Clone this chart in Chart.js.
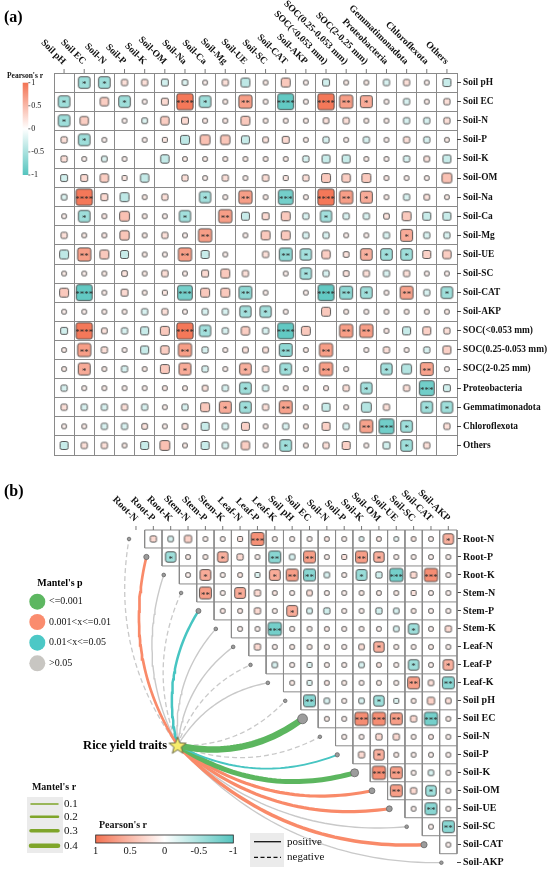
<!DOCTYPE html>
<html><head><meta charset="utf-8">
<script src="https://cdn.jsdelivr.net/npm/chart.js@4.4.1/dist/chart.umd.min.js"></script>
<style>
html,body{margin:0;padding:0;background:#fff;}
body{width:550px;height:875px;overflow:hidden;position:relative;}
canvas{position:absolute;left:0;}
#ca{top:0;width:550px;height:470px;}
#cb{top:470px;width:550px;height:420px;}
</style></head><body>
<canvas id="ca" width="550" height="470"></canvas>
<canvas id="cb" width="550" height="420"></canvas>
<script>
// ---------------- DATA ----------------
const varsA = ['Soil pH','Soil EC','Soil-N','Soil-P','Soil-K','Soil-OM','Soil-Na','Soil-Ca','Soil-Mg','Soil-UE','Soil-SC','Soil-CAT','Soil-AKP','SOC(<0.053 mm)','SOC(0.25-0.053 mm)','SOC(2-0.25 mm)','Proteobacteria','Gemmatimonadota','Chloroflexota','Others'];
// lower triangle of Pearson's r (row i, columns 0..i-1)
const corrA = [
 [],
 [-0.42],
 [-0.42, 0.22],
 [0.12, -0.42, 0.04],
 [0.12, 0.04, -0.10, 0.04],
 [-0.15, 0.15, 0.22, 0.08, -0.22],
 [-0.10, 0.85, 0.15, -0.25, 0.06, 0.12],
 [0.04, -0.42, 0.07, 0.30, 0.06, 0.04, -0.40],
 [0.12, 0.06, 0.07, 0.27, 0.06, 0.12, 0.04, 0.55],
 [-0.25, 0.55, 0.25, -0.20, 0.06, 0.04, 0.55, -0.20, 0.04],
 [0.06, 0.04, 0.06, 0.10, 0.06, 0.13, 0.05, 0.15, 0.25, 0.12],
 [0.25, -0.80, 0.05, 0.15, 0.06, 0.08, -0.68, 0.25, 0.25, -0.52, 0.04],
 [0.04, 0.04, 0.05, 0.05, -0.12, 0.12, 0.04, -0.12, -0.12, -0.40, -0.40, 0.04],
 [-0.15, 0.85, 0.10, -0.12, -0.20, 0.25, 0.85, -0.40, -0.12, 0.22, -0.12, -0.80, 0.25],
 [0.06, 0.55, 0.12, 0.04, -0.20, 0.22, 0.55, -0.12, 0.04, 0.10, 0.10, -0.52, 0.06, 0.55],
 [0.06, 0.45, 0.06, -0.12, 0.06, 0.25, 0.45, -0.12, 0.04, 0.42, 0.12, -0.42, 0.04, 0.55, 0.04],
 [-0.12, 0.04, 0.05, 0.04, 0.04, 0.07, 0.05, 0.10, -0.12, -0.42, -0.12, 0.04, 0.06, 0.07, 0.12, -0.40],
 [0.12, -0.12, -0.12, 0.12, -0.12, 0.04, -0.12, 0.25, 0.45, -0.42, 0.12, 0.52, 0.06, -0.20, 0.04, -0.30, 0.12],
 [0.04, 0.05, -0.12, -0.12, 0.10, 0.04, 0.10, -0.20, -0.12, 0.20, 0.04, -0.12, 0.06, 0.20, -0.12, 0.52, -0.70, -0.42],
 [-0.20, 0.12, 0.12, 0.06, -0.20, 0.30, 0.06, -0.20, -0.12, 0.22, 0.04, -0.42, 0.06, 0.12, 0.20, 0.04, -0.15, -0.42, 0.12]
];
// significance marks [row, col, number of asterisks] (lower triangle)
const starsA = [[1,0,1],[2,0,1],[3,1,1],[6,1,4],[7,1,1],[7,6,1],[8,7,2],[9,1,2],[9,6,2],
 [11,1,4],[11,6,3],[11,9,2],[12,9,1],[12,10,1],[13,1,4],[13,6,4],[13,7,1],[13,11,4],
 [14,1,2],[14,6,2],[14,11,2],[14,13,2],[15,1,1],[15,6,1],[15,9,1],[15,11,1],[15,13,2],
 [16,9,1],[16,15,1],[17,8,1],[17,9,1],[17,11,2],[18,15,2],[18,16,3],[18,17,1],[19,11,1],[19,17,1]];

const varsB = ['Root-N','Root-P','Root-K','Stem-N','Stem-P','Stem-K','Leaf-N','Leaf-P','Leaf-K','Soil pH','Soil EC','Soil-N','Soil-P','Soil-K','Soil-OM','Soil-UE','Soil-SC','Soil-CAT','Soil-AKP'];
// upper triangle of Pearson's r (row i, columns i+1..18)
const corrB = [
 [0.15, -0.12, 0.20, 0.04, 0.04, 0.10, 0.65, 0.04, 0.04, 0.04, 0.08, 0.04, -0.08, 0.08, -0.06, 0.08, 0.04, 0.42],
 [-0.42, 0.06, 0.06, 0.42, 0.15, 0.04, -0.55, -0.12, 0.55, 0.04, 0.10, 0.55, 0.42, 0.04, 0.04, 0.04, 0.04],
 [0.04, 0.45, 0.04, 0.08, -0.10, 0.45, 0.55, -0.55, -0.12, 0.04, -0.45, -0.15, -0.68, 0.15, 0.68, 0.04],
 [0.55, 0.04, 0.45, 0.15, 0.08, 0.04, 0.12, 0.04, 0.04, 0.06, 0.06, 0.06, 0.10, 0.04, 0.04],
 [0.07, 0.07, 0.15, 0.04, 0.45, -0.12, -0.15, 0.04, 0.04, -0.15, -0.12, 0.06, 0.04, 0.04],
 [0.04, 0.04, -0.68, 0.04, 0.04, 0.07, 0.04, 0.04, 0.04, -0.12, -0.42, 0.04, 0.15],
 [0.15, 0.04, 0.06, 0.06, 0.04, 0.04, 0.12, 0.42, 0.04, 0.04, 0.06, 0.04],
 [-0.12, 0.04, -0.10, 0.04, 0.04, -0.12, 0.08, 0.04, -0.42, 0.04, 0.42],
 [0.06, -0.10, 0.07, 0.06, 0.04, 0.06, 0.04, 0.55, 0.12, -0.55],
 [-0.55, -0.12, 0.04, -0.12, -0.42, -0.10, 0.06, 0.20, 0.12],
 [0.06, 0.04, 0.68, 0.68, 0.55, 0.15, -0.68, 0.06],
 [0.04, 0.04, 0.15, 0.15, 0.04, 0.07, 0.04],
 [0.15, 0.42, 0.06, 0.04, 0.04, 0.04],
 [0.68, 0.55, 0.04, -0.12, 0.04],
 [0.55, 0.15, -0.42, 0.04],
 [0.04, -0.55, 0.04],
 [0.04, -0.55],
 [0.04],
 []
];
const starsB = [[0,7,3],[0,18,1],[1,2,1],[1,5,1],[1,8,2],[1,10,2],[1,13,2],[1,14,1],[2,4,1],[2,8,1],
 [2,9,2],[2,10,2],[2,13,1],[2,15,3],[2,17,3],[3,4,2],[3,6,1],[4,9,1],[5,8,3],[5,16,1],[6,14,1],
 [7,16,1],[7,18,1],[8,16,2],[8,18,2],[9,10,2],[9,14,1],[10,13,3],[10,14,3],[10,15,2],[10,17,3],
 [12,14,1],[13,14,3],[13,15,2],[14,15,2],[14,17,1],[15,17,2],[16,18,2]];

// Mantel test: Rice yield traits vs each variable
const mantelR = [0.08, 0.22, 0.09, 0.08, 0.20, 0.09, 0.09, 0.08, 0.09, 0.08, 0.60, 0.08, 0.14, 0.45, 0.27, 0.27, 0.09, 0.30, 0.08];
const mantelP = [0.30, 0.005, 0.20, 0.40, 0.02, 0.15, 0.10, 0.50, 0.20, 0.30, 0.0005, 0.40, 0.03, 0.0008, 0.004, 0.006, 0.20, 0.003, 0.30];
const mantelSign = ['negative','positive','positive','negative','positive','positive','positive','negative','positive','negative','positive','negative','positive','positive','positive','positive','positive','positive','positive'];

const pLegend = ['<=0.001','0.001<x<=0.01','0.01<x<=0.05','>0.05'];
const rLegend = [0.1, 0.2, 0.3, 0.4];
const pearsonTicks = [1, 0.5, 0, -0.5, -1];

// ---------------- STYLE ----------------
const FONT = '"Liberation Serif", "Times New Roman", serif';
const WHITE=[255,255,255], RED=[243,114,82], TEAL=[84,196,190];
const C_GREEN='#5cb65f', C_ORANGE='#f98a69', C_TEAL='#47c5c2', C_GRAY='#c9c9c9';
function mixColor(a,b,t){return 'rgb('+a.map((v,i)=>Math.round(v+(b[i]-v)*t)).join(',')+')';}
function fillFor(r){const t=Math.pow(Math.min(1,Math.abs(r)/0.9),0.75);return mixColor(WHITE, r>=0?RED:TEAL, t);}
const imgCache={};
function cellImg(r, cell){
  const side=Math.max(5.5, 0.97*cell*Math.pow(Math.abs(r),0.45));
  const key=side.toFixed(2)+'|'+r;
  if(imgCache[key]) return imgCache[key];
  const W=Math.ceil(side)+2;
  const c=document.createElement('canvas'); c.width=W; c.height=W;
  const g=c.getContext('2d'); const o=(W-side)/2;
  g.beginPath(); g.roundRect(o+0.5,o+0.5,side-1,side-1,Math.min(2.2,side*0.2));
  g.fillStyle=fillFor(r); g.fill();
  g.lineWidth=1; g.strokeStyle='rgba(70,70,70,0.9)'; g.stroke();
  imgCache[key]=c; return c;
}
function starImg(){
  const c=document.createElement('canvas'); c.width=22; c.height=22;
  const g=c.getContext('2d'); g.beginPath();
  for(let k=0;k<10;k++){const a=-Math.PI/2+k*Math.PI/5; const rr=k%2?3.8:9; g.lineTo(11+rr*Math.cos(a),11.5+rr*Math.sin(a));}
  g.closePath(); g.fillStyle='#f6ec6c'; g.fill(); g.lineWidth=1; g.strokeStyle='#6b6a45'; g.stroke();
  return c;
}
function pColor(p){return p<=0.001?C_GREEN:p<=0.01?C_ORANGE:p<=0.05?C_TEAL:C_GRAY;}
function rWidth(r){return 0.5+10*r;}

function starLookup(list){const m={};list.forEach(([i,j,n])=>{m[i+','+j]=n;m[j+','+i]=n;});return m;}

// ---------------- PLUGINS ----------------
function starsTextPlugin(dsIndex){return {id:'starsText'+dsIndex, afterDatasetsDraw(chart){
  const meta=chart.getDatasetMeta(dsIndex), ds=chart.data.datasets[dsIndex], ctx=chart.ctx;
  ctx.save(); ctx.font='9px '+FONT; ctx.fillStyle='#2a2a2a'; ctx.textAlign='center'; ctx.textBaseline='alphabetic';
  meta.data.forEach((el,k)=>{const n=ds.data[k].s; if(n) ctx.fillText('*'.repeat(n), el.x, el.y+4.6);});
  ctx.restore();}};}
function topLabelsPlugin(labels, valueOf, size){return {id:'topLabels', afterDraw(chart){
  const ctx=chart.ctx, xs=chart.scales.x, top=chart.chartArea.top;
  ctx.save(); ctx.font='bold '+size+'px '+FONT; ctx.fillStyle='#111'; ctx.strokeStyle='#555'; ctx.lineWidth=0.8;
  labels.forEach((lab,j)=>{const px=xs.getPixelForValue(valueOf(j));
    ctx.beginPath(); ctx.moveTo(px,top-4); ctx.lineTo(px,top); ctx.stroke();
    ctx.save(); ctx.translate(px, top-10); ctx.rotate(Math.PI/4); ctx.textAlign='right'; ctx.textBaseline='middle';
    ctx.fillText(lab,0,0); ctx.restore();});
  ctx.restore();}};}

// ---------------- CHART A ----------------
const starMapA=starLookup(starsA);
const cellsA=[];
for(let i=0;i<varsA.length;i++) for(let j=0;j<varsA.length;j++){
  if(i===j) continue;
  const r=i>j?corrA[i][j]:corrA[j][i];
  cellsA.push({x:j+0.5,y:i+0.5,r:r,s:starMapA[i+','+j]||0});
}
const legendAPlugin={id:'legendA', afterDraw(chart){
  const ctx=chart.ctx; ctx.save();
  ctx.font='bold 16px '+FONT; ctx.fillStyle='#000'; ctx.textBaseline='middle'; ctx.textAlign='left';
  ctx.fillText('(a)',4,18);
  const x0=22.7,w=5.6,y0=82.7,y1=175;
  const gr=ctx.createLinearGradient(0,y0,0,y1);
  gr.addColorStop(0,mixColor(WHITE,RED,1)); gr.addColorStop(0.5,'#ffffff'); gr.addColorStop(1,mixColor(WHITE,TEAL,1));
  ctx.fillStyle=gr; ctx.fillRect(x0,y0,w,y1-y0);
  ctx.font='bold 7.5px '+FONT; ctx.fillStyle='#111'; ctx.textAlign='center'; ctx.fillText("Pearson's r",25,76);
  ctx.font='8px '+FONT; ctx.textAlign='left'; ctx.strokeStyle='#333'; ctx.lineWidth=0.7;
  pearsonTicks.forEach(v=>{const y=y0+(1-v)/2*(y1-y0);
    ctx.beginPath(); ctx.moveTo(x0+w,y); ctx.lineTo(x0+w+2,y); ctx.stroke();
    ctx.fillText(String(v),x0+w+3,y);});
  ctx.restore();}};
new Chart(document.getElementById('ca'),{
  type:'scatter',
  data:{datasets:[{data:cellsA,
    pointStyle:(c)=>{const ys=c.chart.scales.y;const cell=Math.abs(ys.getPixelForValue(1)-ys.getPixelForValue(0));return cellImg(c.raw.r,cell);},
    pointRadius:3, pointHoverRadius:3}]},
  options:{responsive:false, animation:false, devicePixelRatio:1, events:[],
    layout:{padding:{left:54,top:73,right:0,bottom:15}},
    plugins:{legend:{display:false},tooltip:{enabled:false}},
    scales:{
      x:{type:'linear',position:'top',min:0,max:20,ticks:{display:false,stepSize:1,maxTicksLimit:100},grid:{drawTicks:false,color:'#8a8a8a',lineWidth:1},border:{color:'#8a8a8a'}},
      y:{type:'linear',position:'left',reverse:true,min:0,max:20,ticks:{display:false,stepSize:1,maxTicksLimit:100},grid:{drawTicks:false,color:'#8a8a8a',lineWidth:1},border:{color:'#8a8a8a'}},
      yl:{type:'category',position:'right',labels:varsA,offset:true,
        grid:{drawOnChartArea:false,drawTicks:true,tickLength:4,color:'#444'},border:{display:false},
        ticks:{autoSkip:false,padding:2,color:'#111',font:{family:FONT,weight:'bold',size:9.4}},
        afterFit(s){s.width=93;}}
    }},
  plugins:[starsTextPlugin(0), topLabelsPlugin(varsA,j=>j+0.5,9.6), legendAPlugin]
});

// ---------------- CHART B ----------------
const N=varsB.length;
const starMapB=starLookup(starsB);
const cellsB=[];
for(let i=0;i<N;i++) corrB[i].forEach((r,k)=>{const j=i+1+k; cellsB.push({x:j,y:i,r:r,s:starMapB[i+','+j]||0});});
// staircase grid outline
const gridB=[];
for(let k=0;k<N;k++){gridB.push({x:Math.max(k-0.5,0.5),y:k-0.5},{x:N-0.5,y:k-0.5},{x:null,y:null});}
for(let m=1;m<=N;m++){gridB.push({x:m-0.5,y:-0.5},{x:m-0.5,y:Math.min(m,N-1)-0.5},{x:null,y:null});}
const STAR={x:2.4,y:11.48};
function curve(i){
  const x0=STAR.x,y0=STAR.y,x2=i-0.4,y2=i,dx=x2-x0,dy=y2-y0,side=i<=8?1:-1,k=0.22;
  const cx=(x0+x2)/2+side*k*dy, cy=(y0+y2)/2-side*k*dx, pts=[];
  for(let s=0;s<=40;s++){const t=s/40;pts.push({x:(1-t)*(1-t)*x0+2*t*(1-t)*cx+t*t*x2,y:(1-t)*(1-t)*y0+2*t*(1-t)*cy+t*t*y2});}
  return pts;
}
const datasetsB=[
  {data:cellsB, order:1, clip:false,
   pointStyle:(c)=>{const xs=c.chart.scales.x;const cell=Math.abs(xs.getPixelForValue(1)-xs.getPixelForValue(0));return cellImg(c.raw.r,cell);},
   pointRadius:3, pointHoverRadius:3},
  {data:[STAR], order:0, clip:false, pointStyle:starImg(), pointRadius:5},
  {data:varsB.map((v,i)=>({x:i-0.4,y:i})), order:1, clip:false,
   pointRadius:mantelR.map(r=>1+0.6*rWidth(r)), backgroundColor:'#9c9c9c', borderColor:'#666', borderWidth:0.8, pointStyle:'circle'},
  {data:gridB, order:6, clip:false, showLine:true, borderColor:'#8a8a8a', borderWidth:1, pointRadius:0, spanGaps:false}
];
varsB.forEach((v,i)=>{
  const col=pColor(mantelP[i]);
  datasetsB.push({data:curve(i), order:col===C_GRAY?4:3, clip:false, showLine:true, borderColor:col,
    borderWidth:rWidth(mantelR[i]), borderDash:mantelSign[i]==='negative'?[5,3]:[], pointRadius:0, borderCapStyle:'butt'});
});
const legendBPlugin={id:'legendB', afterDraw(chart){
  const ctx=chart.ctx; ctx.save();
  ctx.fillStyle='#000'; ctx.textBaseline='middle'; ctx.textAlign='left';
  ctx.font='bold 16px '+FONT; ctx.fillText('(b)',4,22);
  // Rice yield traits label
  const sx=chart.scales.x.getPixelForValue(STAR.x), sy=chart.scales.y.getPixelForValue(STAR.y);
  ctx.font='bold 12.5px '+FONT; ctx.textAlign='right'; ctx.fillText('Rice yield traits',sx-10.5,sy+0.5);
  // Mantel's p
  ctx.textAlign='center'; ctx.font='bold 10px '+FONT; ctx.fillText("Mantel's p",60,113);
  const pc=['#5db761','#fa8c6e','#4cc8c6','#c8c6c2'], py=[131.7,152,172.7,193.3];
  ctx.textAlign='left'; ctx.font='10px '+FONT;
  pLegend.forEach((t,k)=>{ctx.beginPath();ctx.arc(37.3,py[k],8,0,Math.PI*2);ctx.fillStyle=pc[k];ctx.fill();
    ctx.fillStyle='#111';ctx.fillText(t,49,py[k]);});
  // Mantel's r
  ctx.textAlign='center'; ctx.font='bold 10px '+FONT; ctx.fillText("Mantel's r",54,317.7);
  ctx.fillStyle='#ebebeb'; ctx.fillRect(27,327,36,56);
  const ry=[334,346.7,360.7,375.7];
  ctx.textAlign='left'; ctx.font='11px '+FONT;
  rLegend.forEach((r,k)=>{ctx.beginPath();ctx.moveTo(31,ry[k]);ctx.lineTo(58,ry[k]);ctx.strokeStyle='#7fa52a';ctx.lineWidth=rWidth(r);ctx.lineCap='round';ctx.stroke();
    ctx.fillStyle='#111';ctx.fillText(r.toFixed(1),64,ry[k]+0.5);});
  ctx.lineCap='butt';
  // Pearson's r colorbar
  ctx.font='bold 10px '+FONT; ctx.fillText("Pearson's r",99,355.7);
  const bx0=95.7,bx1=233.3,by=365,bh=8;
  const gr=ctx.createLinearGradient(bx0,0,bx1,0);
  gr.addColorStop(0,mixColor(WHITE,RED,1)); gr.addColorStop(0.5,'#ffffff'); gr.addColorStop(1,mixColor(WHITE,TEAL,1));
  ctx.fillStyle=gr; ctx.fillRect(bx0,by,bx1-bx0,bh);
  ctx.strokeStyle='#222'; ctx.lineWidth=0.8; ctx.strokeRect(bx0,by,bx1-bx0,bh);
  ctx.fillStyle='#111'; ctx.font='10.5px '+FONT; ctx.textAlign='center';
  pearsonTicks.forEach(v=>{const x=bx0+(1-v)/2*(bx1-bx0); ctx.fillText(String(v),x,381.7);});
  // line type legend
  ctx.fillStyle='#ebebeb'; ctx.fillRect(250,363,34,34);
  ctx.strokeStyle='#111'; ctx.lineWidth=1.3;
  ctx.beginPath(); ctx.moveTo(254,371.7); ctx.lineTo(281,371.7); ctx.stroke();
  ctx.setLineDash([4,2.5]); ctx.beginPath(); ctx.moveTo(254,387.3); ctx.lineTo(281,387.3); ctx.stroke(); ctx.setLineDash([]);
  ctx.fillStyle='#111'; ctx.font='11px '+FONT; ctx.textAlign='left';
  ctx.fillText('positive',287,371.7); ctx.fillText('negative',287,387.3);
  ctx.restore();}};
new Chart(document.getElementById('cb'),{
  type:'scatter',
  data:{datasets:datasetsB},
  options:{responsive:false, animation:false, devicePixelRatio:1, events:[],
    layout:{padding:{left:127.3,top:60,right:0,bottom:18.3}},
    plugins:{legend:{display:false},tooltip:{enabled:false}},
    scales:{
      x:{type:'linear',min:-0.5,max:N-0.5,display:false},
      y:{type:'linear',reverse:true,min:-0.5,max:N-0.5,display:false},
      yl:{type:'category',position:'right',labels:varsB,offset:true,
        grid:{drawOnChartArea:false,drawTicks:true,tickLength:4,color:'#444'},border:{display:false},
        ticks:{autoSkip:false,padding:2,color:'#111',font:{family:FONT,weight:'bold',size:10}},
        afterFit(s){s.width=93;}}
    }},
  plugins:[starsTextPlugin(0), topLabelsPlugin(varsB,j=>j,10), legendBPlugin]
});
</script></body></html>
